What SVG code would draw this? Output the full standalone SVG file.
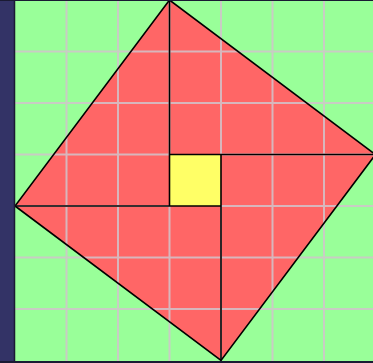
<svg xmlns="http://www.w3.org/2000/svg" width="373" height="363" viewBox="0 0 373 363">
  <style>
    .grid { stroke: #d2c4cc; stroke-width: 2; opacity: 0.85; }
    .edge { stroke: #000; stroke-width: 1.6; fill: none; }
  </style>
  <rect x="0" y="0" width="373" height="363" fill="#333366"/>
  <rect x="15" y="0" width="358" height="361" fill="#99ff99"/>
  <g id="figure">
    <polygon points="169.5,0 375.5,154.5 221,360.5 15,206" fill="#ff6666"/>
    <rect id="yellow-square" x="169.5" y="154.5" width="51.5" height="51.5" fill="#ffff66"/>
  </g>
  <g id="grid" class="grid">
    <line x1="66.5" y1="0" x2="66.5" y2="361"/>
    <line x1="118" y1="0" x2="118" y2="361"/>
    <line x1="169.5" y1="0" x2="169.5" y2="154.5"/>
    <line x1="169.5" y1="206" x2="169.5" y2="361"/>
    <line x1="221" y1="0" x2="221" y2="154.5"/>
    <line x1="221" y1="206" x2="221" y2="361"/>
    <line x1="272.5" y1="0" x2="272.5" y2="361"/>
    <line x1="324" y1="0" x2="324" y2="361"/>
    <line x1="15" y1="51.5" x2="373" y2="51.5"/>
    <line x1="15" y1="103" x2="373" y2="103"/>
    <line x1="15" y1="154.5" x2="169.5" y2="154.5"/>
    <line x1="221" y1="154.5" x2="373" y2="154.5"/>
    <line x1="15" y1="206" x2="169.5" y2="206"/>
    <line x1="221" y1="206" x2="373" y2="206"/>
    <line x1="15" y1="257.5" x2="373" y2="257.5"/>
    <line x1="15" y1="309" x2="373" y2="309"/>
  </g>
  <g id="connectors" class="edge">
    <polygon points="169.5,0 375.5,154.5 221,360.5 15,206"/>
    <line x1="169.5" y1="0" x2="169.5" y2="206"/>
    <line x1="375.5" y1="154.5" x2="169.5" y2="154.5"/>
    <line x1="221" y1="360.5" x2="221" y2="154.5"/>
    <line x1="15" y1="206" x2="221" y2="206"/>
  </g>
  <g id="frame">
    <line x1="14.5" y1="0" x2="14.5" y2="363" stroke="#1a1a33" stroke-width="1.5"/>
    <line x1="0" y1="0.5" x2="373" y2="0.5" stroke="#1a1a33" stroke-width="1"/>
    <line x1="0" y1="362" x2="373" y2="362" stroke="#1a1a33" stroke-width="2"/>
  </g>
</svg>
